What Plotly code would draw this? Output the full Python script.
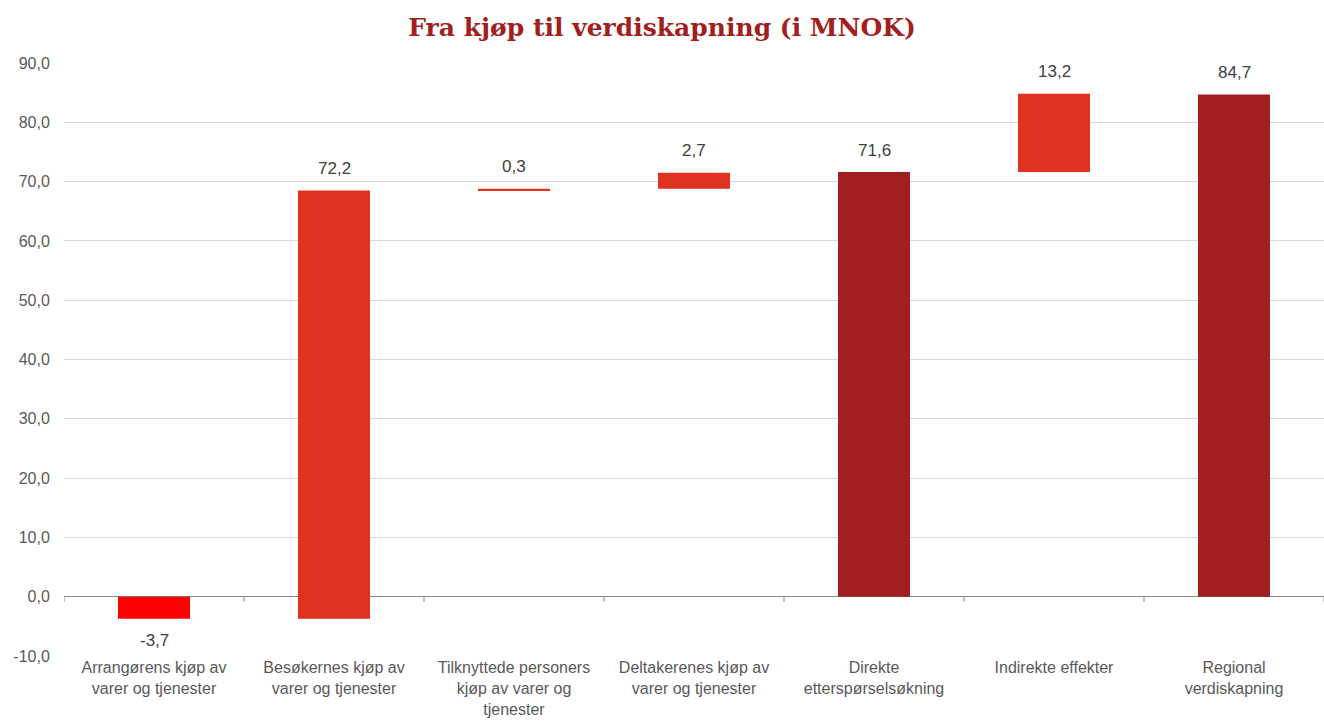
import plotly.graph_objects as go

# Kategorier og verdier (MNOK)
categories = [
    "Arrangørens kjøp av<br>varer og tjenester",
    "Besøkernes kjøp av<br>varer og tjenester",
    "Tilknyttede personers<br>kjøp av varer og<br>tjenester",
    "Deltakerenes kjøp av<br>varer og tjenester",
    "Direkte<br>etterspørselsøkning",
    "Indirekte effekter",
    "Regional<br>verdiskapning",
]
values = [-3.7, 72.2, 0.3, 2.7, 71.6, 13.2, 84.7]
measures = ["relative", "relative", "relative", "relative", "absolute", "relative", "absolute"]

y_ticks = [-10, 0, 10, 20, 30, 40, 50, 60, 70, 80, 90]

RED_NEG = "#FF0000"
RED_POS = "#DF321F"
RED_TOT = "#A11E21"
TXT = "#595959"
SANS = "Liberation Sans, Arial, sans-serif"


def fmt(v):
    return f"{v:.1f}".replace(".", ",")


# Bar end positions (where each label sits)
ends = []
level = 0.0
for v, m in zip(values, measures):
    level = v if m == "absolute" else level + v
    ends.append(level)

fig = go.Figure()
fig.add_trace(go.Waterfall(
    x=list(range(len(categories))),
    y=values,
    measure=measures,
    width=0.4,
    decreasing=dict(marker=dict(color=RED_NEG)),
    increasing=dict(marker=dict(color=RED_POS)),
    totals=dict(marker=dict(color=RED_TOT)),
    connector=dict(visible=False),
    hoverinfo="skip",
    showlegend=False,
))

annotations = []
for i, (v, e) in enumerate(zip(values, ends)):
    annotations.append(dict(
        x=i, y=e, xref="x", yref="y",
        text=fmt(v), showarrow=False,
        yshift=22 if v >= 0 else -22,
        font=dict(family=SANS, size=17, color="#404040"),
    ))

# Small tick marks on the zero line between categories
shapes = []
for k in range(len(categories) + 1):
    shapes.append(dict(
        type="line", xref="x", yref="y",
        x0=k - 0.5, x1=k - 0.5,
        ysizemode="pixel", yanchor=0, y0=0, y1=-5,
        line=dict(color="#868686", width=1),
    ))

fig.update_layout(
    width=1324, height=725,
    margin=dict(l=64, r=0, t=63, b=69),
    paper_bgcolor="white", plot_bgcolor="white",
    title=dict(
        text="<b>Fra kjøp til verdiskapning (i MNOK)</b>",
        x=0.5, xanchor="center", y=0.962, yanchor="middle",
        font=dict(family="DejaVu Serif, Georgia, serif", size=25, color=RED_TOT),
    ),
    xaxis=dict(
        tickmode="array",
        tickvals=list(range(len(categories))),
        ticktext=categories,
        range=[-0.5, len(categories) - 0.5],
        showgrid=False, zeroline=False, showline=False,
        ticks="", 
        tickfont=dict(family=SANS, size=16, color=TXT),
        tickangle=0,
        automargin=False,
    ),
    yaxis=dict(
        range=[-10, 90],
        tickmode="array",
        tickvals=y_ticks,
        ticktext=[fmt(t) for t in y_ticks],
        showgrid=True, gridcolor="#D9D9D9", gridwidth=1,
        zeroline=True, zerolinecolor="#868686", zerolinewidth=1,
        showline=False,
        ticks="outside", ticklen=10, tickcolor="rgba(0,0,0,0)",
        tickfont=dict(family=SANS, size=16, color=TXT),
        automargin=False,
    ),
    annotations=annotations,
    shapes=shapes,
)

fig.write_html("out.html")
